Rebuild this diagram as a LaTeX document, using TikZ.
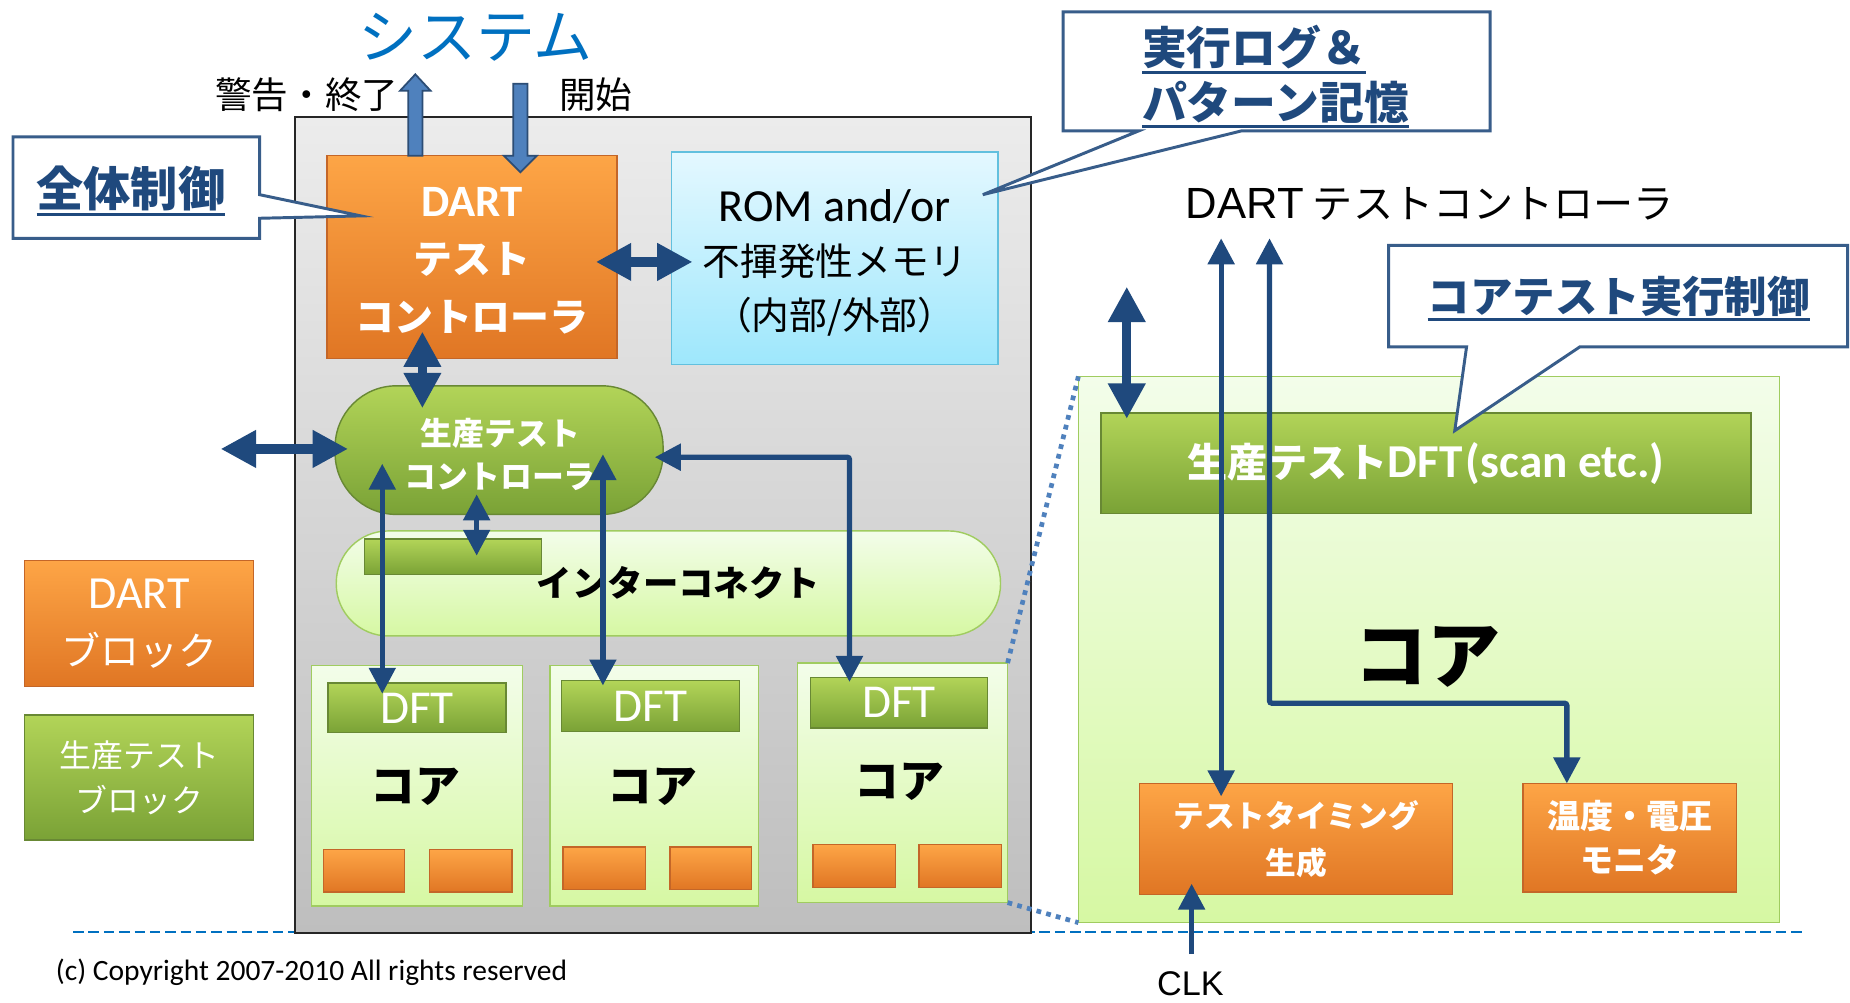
\documentclass[tikz,border=0pt]{standalone}
\usepackage{fontspec}
\setmainfont{Carlito}
\newfontfamily\jp{Noto Sans CJK JP}
\newfontfamily\arialf{Liberation Sans}
\usetikzlibrary{arrows.meta,calc}

\definecolor{arrowblue}{RGB}{31,73,125}
\definecolor{calledge}{RGB}{56,93,138}
\definecolor{calltext}{RGB}{31,73,125}
\definecolor{sysblue}{RGB}{0,112,192}
\definecolor{dashblue}{RGB}{0,112,192}
\definecolor{dotblue}{RGB}{79,129,189}
\definecolor{blkfill}{RGB}{79,129,189}
\definecolor{blkedge}{RGB}{44,77,117}
\definecolor{orgtop}{RGB}{253,165,70}
\definecolor{orgbot}{RGB}{224,118,36}
\definecolor{orgedge}{RGB}{196,102,40}
\definecolor{grntop}{RGB}{178,212,88}
\definecolor{grnbot}{RGB}{122,162,54}
\definecolor{grnedge}{RGB}{104,136,52}
\definecolor{lgtop}{RGB}{243,253,234}
\definecolor{lgbot}{RGB}{214,248,163}
\definecolor{lgedge}{RGB}{160,204,96}
\definecolor{romtop}{RGB}{228,248,255}
\definecolor{rombot}{RGB}{158,231,252}
\definecolor{romedge}{RGB}{98,192,222}
\definecolor{chiptop}{RGB}{236,236,236}
\definecolor{chipbot}{RGB}{190,190,190}

% underlined text whose rule follows the current colour
\newcommand{\ulbox}[1]{\leavevmode\setbox0=\hbox{#1}\rlap{\copy0}\raisebox{-0.2em}{\rule{\wd0}{0.07em}}}
\newcommand{\fs}[2]{\fontsize{#1}{#2}\selectfont}

\tikzset{
  sz/.style 2 args={minimum width=#1pt, minimum height=#2pt},
  every node/.style={inner sep=0pt, outer sep=0pt},
  orgbox/.style={draw=orgedge, line width=1.2pt, top color=orgtop, bottom color=orgbot, text=white},
  grnbox/.style={draw=grnedge, line width=1.2pt, top color=grntop, bottom color=grnbot, text=white},
  lgbox/.style={draw=lgedge, line width=1.2pt, top color=lgtop, bottom color=lgbot},
  rombox/.style={draw=romedge, line width=1.2pt, top color=romtop, bottom color=rombot},
  chipbox/.style={draw=black!85, line width=1.4pt, top color=chiptop, bottom color=chipbot},
  callout/.style={draw=calledge, line width=2.5pt, fill=white, line join=miter},
  calltxt/.style={text=calltext, align=left},
  bigboth/.style={draw=arrowblue, line width=8pt, {Triangle[length=30pt,width=30pt]}-{Triangle[length=30pt,width=30pt]}},
  thinboth/.style={draw=arrowblue, line width=4.5pt, {Triangle[length=22pt,width=22pt]}-{Triangle[length=22pt,width=22pt]}},
  thinone/.style={draw=arrowblue, line width=4.5pt, -{Triangle[length=22pt,width=22pt]}},
  blockarrow/.style={fill=blkfill, draw=blkedge, line width=1.5pt},
  dashline/.style={draw=dashblue, line width=2.2pt, dash pattern=on 9pt off 4pt},
  dotline/.style={draw=dotblue, line width=4pt, dash pattern=on 4pt off 4.5pt},
}

\begin{document}
\begin{tikzpicture}[x=1pt,y=-1pt]
\fill[white] (0,0) rectangle (1568,850);
\useasboundingbox (0,0) rectangle (1568,850);

% ground line
\draw[dashline] (62,790) -- (1528,790);

% ---------------- chip ----------------
\node[chipbox, sz={624}{692}] (chip) at (562,445) {};

\node[font=\jp\fs{50}{52}, text=sysblue] (sys) at (403,32) {システム};
\node[font=\jp\fs{31}{34}] (warn) at (260,80) {警告・終了};
\node[font=\jp\fs{31}{34}] (start) at (505,80) {開始};

\node[orgbox, sz={246}{172}, align=center, font=\jp\bfseries\fs{33}{49}] (dart) at (400,218) {};
\node[align=center, text=white, font=\jp\bfseries\fs{33}{49}] (dartlbl) at (400,221)
  {{\rmfamily\fs{38}{49}DART}\\テスト\\コントローラ};
\node[rombox, sz={277}{180}, align=center, font=\jp\fs{32}{45}] (rom) at (707.5,219) {};
\node[align=center, font=\jp\fs{32}{46}] (romlbl) at (707.5,223)
  {{\rmfamily\fs{39}{46}ROM and/or}\\不揮発性メモリ\\（内部/外部）};

\node[grnbox, rounded corners=52pt, sz={278}{109}] (ptc) at (423,381.5) {};
\node[align=center, text=white, font=\jp\bfseries\fs{27}{36}] (ptclbl) at (424,385) {生産テスト\\コントローラ};

\node[lgbox, rounded corners=44pt, sz={563}{89}] (ic) at (566.5,494.5) {};
\node[grnbox, sz={150}{30}] (icbar) at (384,472) {};
\node[font=\jp\bfseries\fs{30}{32}] (iclbl) at (575,494) {インターコネクト};

% cores
\node[lgbox, sz={179}{204}] (core1) at (353.5,666) {};
\node[lgbox, sz={177}{204}] (core2) at (554.5,666) {};
\node[lgbox, sz={178}{203}] (core3) at (765,663.5) {};
\node[grnbox, sz={151}{42}, font=\rmfamily\fs{40}{42}] (dft1) at (353.5,600) {DFT};
\node[grnbox, sz={151}{43}, font=\rmfamily\fs{40}{42}] (dft2) at (551.5,598.5) {DFT};
\node[grnbox, sz={150}{43}, font=\rmfamily\fs{40}{42}] (dft3) at (762,595.5) {DFT};
\node[font=\jp\bfseries\fs{38}{40}] (c1lbl) at (352,667) {コア};
\node[font=\jp\bfseries\fs{38}{40}] (c2lbl) at (553,667) {コア};
\node[font=\jp\bfseries\fs{38}{40}] (c3lbl) at (762,663) {コア};
\node[orgbox, sz={69}{36}] (o1a) at (308.5,738) {};
\node[orgbox, sz={70}{36}] (o1b) at (399,738) {};
\node[orgbox, sz={70}{36}] (o2a) at (512,736) {};
\node[orgbox, sz={69}{36}] (o2b) at (602.5,736) {};
\node[orgbox, sz={70}{36}] (o3a) at (724,734) {};
\node[orgbox, sz={70}{36}] (o3b) at (814,734) {};

% legend
\node[orgbox, sz={194}{107}, align=center, font=\jp\fs{33}{48}] (legD) at (118,528.5)
  {{\rmfamily\fs{39}{48}DART}\\ブロック};
\node[grnbox, sz={194}{106}, align=center, font=\jp\fs{27}{38}] (legG) at (118,659)
  {生産テスト\\ブロック};

\node[font=\rmfamily\fs{25}{26}] (copy) at (264,824) {(c) Copyright 2007-2010 All rights reserved};

% chip connectors
\coordinate (warnTip) at (352,63);
\coordinate (startTail) at (441,71);
\path[blockarrow] ($(dart.north)+(-54,0)$) -- ++(0,-55) -- ++(-7,0) -- (warnTip) -- ++(13,14) -- ++(-7,0) -- ++(0,55) -- cycle;
\path[blockarrow] ($(startTail)+(-6,0)$) -- ++(0,61) -- ++(-8,0) -- ++(14,14) -- ++(14,-14) -- ++(-8,0) -- ++(0,-61) -- cycle;

\draw[bigboth] ($(dart.east)+(-18,4)$) -- ($(rom.west)+(18,3)$);
\draw[bigboth] ($(dart.south)+(-42,-23)$) -- ($(ptc.north)+(-65,19)$);
\coordinate (extL) at (187,380.5);
\draw[bigboth] (extL) -- ($(ptc.west)+(11,-1)$);
\draw[thinboth] ($(ptc.south)+(-19,-17)$) -- ($(icbar.center)+(20,-1)$);
\draw[thinboth] ($(ptc.center)+(-99,11.5)$) -- ($(dft1.center)+(-29.5,-12)$);
\draw[thinboth] ($(ptc.center)+(88,3.5)$) -- ($(dft2.center)+(-40.5,-17.5)$);
\draw[thinboth, rounded corners=2pt] ($(ptc.east)+(-7,6)$) -| ($(dft3.north)+(-42,4)$);

% ---------------- core detail ----------------
\node[lgbox, sz={594}{463}] (bigcore) at (1211,550.5) {};
\draw[dotline] (core3.north east) -- (bigcore.north west);
\draw[dotline] (core3.south east) -- (bigcore.south west);

\node[grnbox, sz={551}{85}, font=\jp\bfseries\fs{34}{36}] (scan) at (1208.5,392.5)
  {生産テスト{\rmfamily\fs{40}{36}DFT\kern3pt(scan etc.)}};
\node[font=\jp\bfseries\fs{62}{64}] (bigcorelbl) at (1210,557) {コア};
\node[orgbox, sz={265}{94}, align=center, font=\jp\bfseries\fs{26}{40}] (tim) at (1098.5,711)
  {テストタイミング\\生成};
\node[orgbox, sz={181}{92}, align=center, font=\jp\bfseries\fs{28}{38}] (mon) at (1381.5,710)
  {温度・電圧\\モニタ};

\node[font=\jp\fs{34}{36}] (dtc) at (1212,173) {{\arialf\fs{37}{36}DART} テストコントローラ};
\node[font=\arialf\fs{29}{30}] (clk) at (1009,834) {CLK};

\coordinate (dtcA) at (1035,202);
\coordinate (dtcB) at (1076,202);
\coordinate (sysIO) at (955,243);
\draw[bigboth] (sysIO) -- ($(scan.north west)+(22,5)$);
\draw[thinboth] (dtcA) -- ($(tim.north)+(-63.5,11)$);
\draw[thinboth, rounded corners=2pt] (dtcB) -- (1076,596) -| ($(mon.north)+(-53.5,0)$);
\draw[thinone] ($(clk.north)+(1,-15)$) -- ($(tim.south)+(-88.5,-9)$);

% ---------------- callouts ----------------
\path[callout] (11,116) -- (220,116) -- (220,165) -- (306,183) -- (220,185) -- (220,202) -- (11,202) -- cycle;
\node[calltxt, font=\jp\bfseries\fs{40}{44}] (ctl) at (111,162) {\ulbox{全体制御}};

\path[callout] (901,10) -- (1263,10) -- (1263,111) -- (1052,111) -- (833,165) -- (965,111) -- (901,111) -- cycle;
\node[calltxt, anchor=west, font=\jp\bfseries\fs{38}{46}] (log) at (968,65) {\ulbox{実行ログ＆}\\\ulbox{パターン記憶}};

\path[callout] (1177,208) -- (1566,208) -- (1566,294) -- (1339,294) -- (1233,365) -- (1243,294) -- (1177,294) -- cycle;
\node[calltxt, font=\jp\bfseries\fs{36}{40}] (cte) at (1372,253) {\ulbox{コアテスト実行制御}};

\end{tikzpicture}
\end{document}
